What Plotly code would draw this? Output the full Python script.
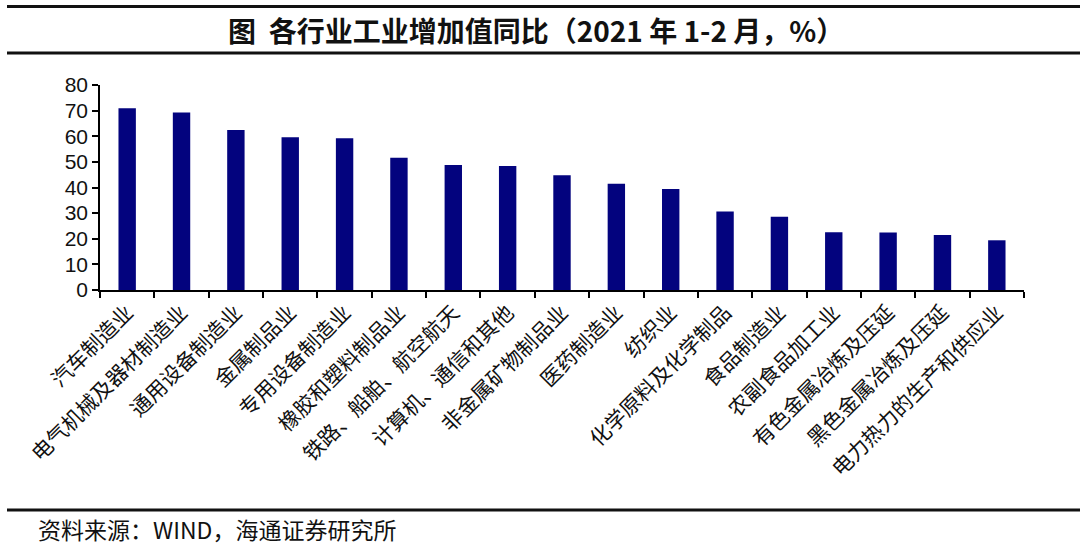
import plotly.graph_objects as go

categories = ["汽车制造业", "电气机械及器材制造业", "通用设备制造业", "金属制品业", "专用设备制造业",
              "橡胶和塑料制品业", "铁路、船舶、航空航天", "计算机、通信和其他", "非金属矿物制品业",
              "医药制造业", "纺织业", "化学原料及化学制品", "食品制造业", "农副食品加工业",
              "有色金属冶炼及压延", "黑色金属冶炼及压延", "电力热力的生产和供应业"]
values = [70.9, 69.3, 62.4, 59.6, 59.2, 51.6, 48.8, 48.4, 44.8, 41.5, 39.4, 30.6, 28.6, 22.5, 22.4, 21.5, 19.4]
y_ticks = [0, 10, 20, 30, 40, 50, 60, 70, 80]

title_text = "图  各行业工业增加值同比（2021 年 1-2 月，%）"
source_text = "资料来源：WIND，海通证券研究所"

L, R, T, B = 100, 1024, 85, 290
W, H = R - L, B - T

def px(x):
    return (x - L) / W

def py(y):
    return (B - y) / H

fig = go.Figure(go.Bar(x=categories, y=values, marker_color="#03037E", width=0.32,
                       marker_line_width=0))

fig.update_layout(
    width=1080, height=552,
    margin=dict(l=L, r=1080 - R, t=T, b=552 - B, autoexpand=False),
    paper_bgcolor="white", plot_bgcolor="white",
    showlegend=False,
    font=dict(family="Noto Sans CJK SC", color="#111111"),
)
fig.update_xaxes(
    type="category", tickangle=-45, tickson="boundaries", ticks="outside", ticklen=6,
    tickcolor="black", tickwidth=2, showline=True, linecolor="black", linewidth=2,
    tickfont=dict(family="Noto Sans CJK SC", size=21, color="#111111"),
    showgrid=False, automargin=False,
)
fig.update_yaxes(
    range=[0, 80], tickvals=y_ticks, ticks="outside", ticklen=6, tickcolor="black",
    tickwidth=1.5, showline=True, linecolor="black", linewidth=1.5, showgrid=False,
    zeroline=False, tickfont=dict(family="Liberation Sans, Arial", size=21, color="#111111"),
    automargin=False,
)

for yline in (53, 510):
    fig.add_shape(type="line", xref="paper", yref="paper", x0=px(7), x1=px(1080),
                  y0=py(yline), y1=py(yline), line=dict(color="#111111", width=3),
                  layer="above")

# top rule: pixel-sized shape anchored at the top of the plot area
fig.add_shape(type="rect", xref="paper", yref="paper", ysizemode="pixel", yanchor=1,
              x0=px(7), x1=px(1080), y0=T - 8, y1=T - 5,
              fillcolor="#111111", line=dict(width=0), layer="above")

fig.add_annotation(text="<b>" + title_text + "</b>", xref="paper", yref="paper",
                   x=px(536), y=py(30), xanchor="center", yanchor="middle", showarrow=False,
                   font=dict(family="Noto Sans CJK SC", size=28, color="#111111"))
fig.add_annotation(text=source_text, xref="paper", yref="paper",
                   x=px(36), y=py(529), xanchor="left", yanchor="middle", showarrow=False,
                   font=dict(family="Noto Sans CJK SC", size=23, color="#111111"))

fig.write_html("out.html", post_script="document.body.style.margin='0';",
               config={"displayModeBar": False})
